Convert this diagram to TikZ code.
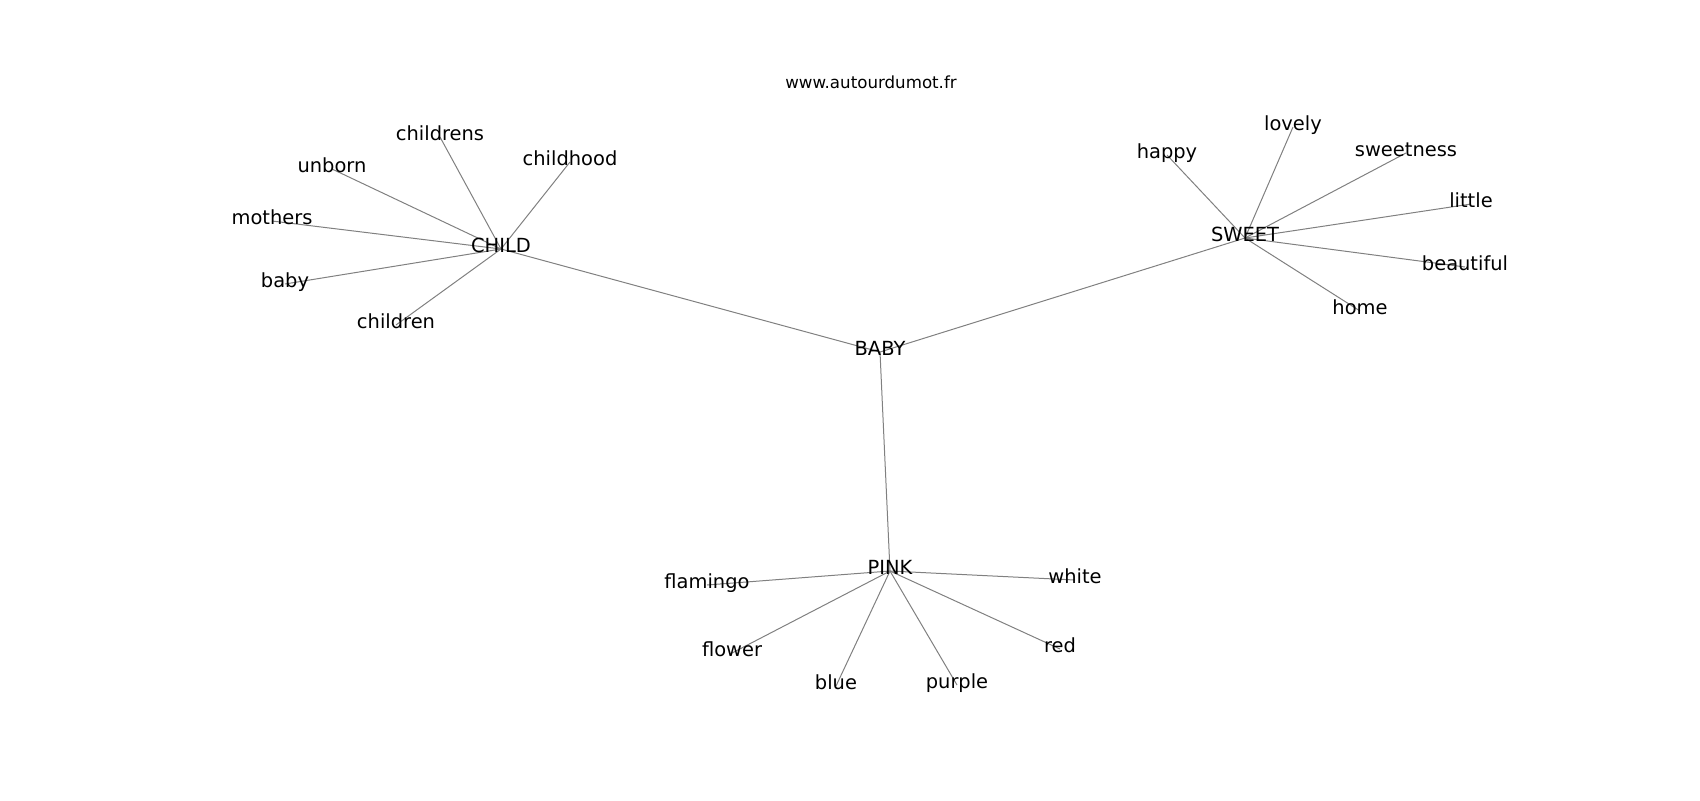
\documentclass[tikz,border=0pt]{standalone}
\usepackage{fontspec}
\setmainfont{DejaVu Sans}
\usetikzlibrary{backgrounds}

\begin{document}
\begin{tikzpicture}[x=0.72pt, y=-0.72pt,
  word/.style={font=\fontsize{14}{16}\selectfont, inner sep=0pt,
    text height=0.76em, text depth=0.24em},
  link/.style={draw=gray, line width=0.72pt}]

  % --- Canvas ---
  \useasboundingbox (0,0) rectangle (1700,800);

  % --- Title ---
  \node[font=\fontsize{12}{14}\selectfont] (title) at (871,82) {www.autourdumot.fr};

  % --- Hubs ---
  \node[word] (BABY)  at (880,352) {BABY};
  \node[word] (CHILD) at (501,249) {CHILD};
  \node[word] (SWEET) at (1245,238) {SWEET};
  \node[word] (PINK)  at (890,571) {PINK};

  % --- CHILD words ---
  \node[word] (childrens) at (440,137) {childrens};
  \node[word] (unborn)    at (332,169) {unborn};
  \node[word] (childhood) at (570,162) {childhood};
  \node[word] (mothers)   at (272,221) {mothers};
  \node[word] (baby)      at (285,284) {baby};
  \node[word] (children)  at (396,325) {children};

  % --- SWEET words ---
  \node[word] (happy)     at (1167,155) {happy};
  \node[word] (lovely)    at (1293,127) {lovely};
  \node[word] (sweetness) at (1406,153) {sweetness};
  \node[word] (little)    at (1471,204) {little};
  \node[word] (beautiful) at (1465,267) {beautiful};
  \node[word] (home)      at (1360,311) {home};

  % --- PINK words ---
  \node[word] (flamingo) at (707,585) {flamingo};
  \node[word] (white)    at (1075,580) {white};
  \node[word] (flower)   at (732,653) {flower};
  \node[word] (red)      at (1060,649) {red};
  \node[word] (blue)     at (836,686) {blue};
  \node[word] (purple)   at (957,685) {purple};

  % --- Edges (behind the labels) ---
  \begin{pgfonlayer}{background}
    \foreach \h in {CHILD,SWEET,PINK}
      \draw[link] (BABY.center) -- (\h.center);
    \foreach \w in {childrens,unborn,childhood,mothers,baby,children}
      \draw[link] (CHILD.center) -- (\w.center);
    \foreach \w in {happy,lovely,sweetness,little,beautiful,home}
      \draw[link] (SWEET.center) -- (\w.center);
    \foreach \w in {flamingo,white,flower,red,blue,purple}
      \draw[link] (PINK.center) -- (\w.center);
  \end{pgfonlayer}

\end{tikzpicture}
\end{document}
